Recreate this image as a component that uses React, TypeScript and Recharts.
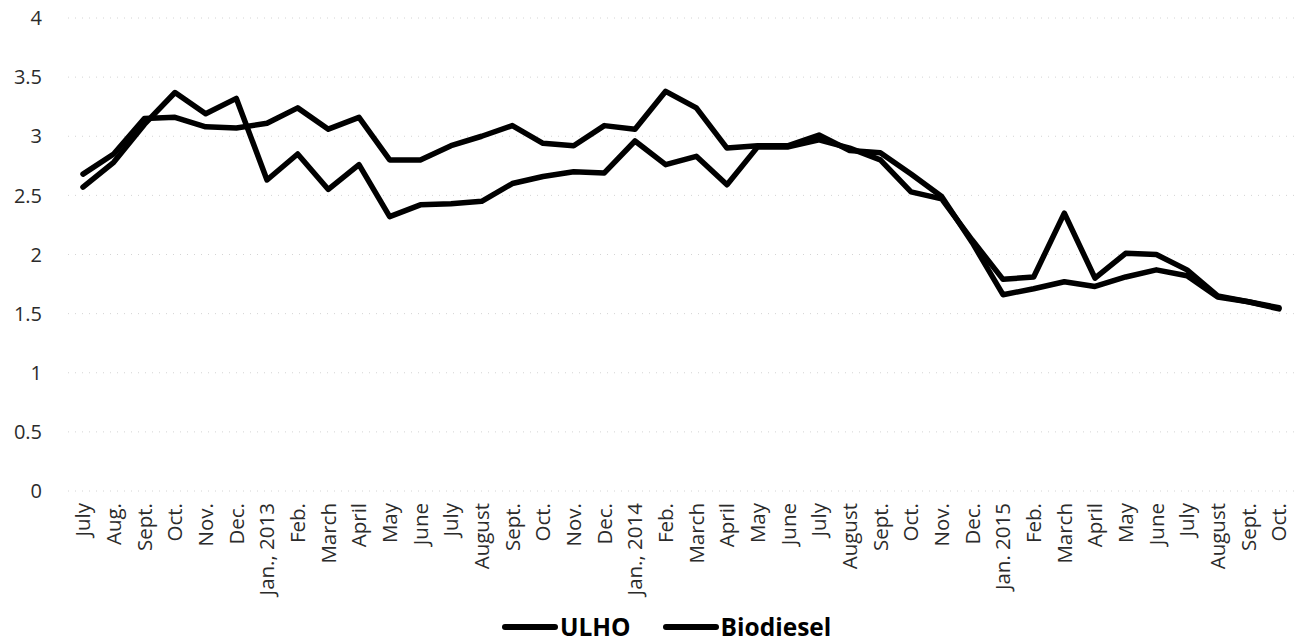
import React from "react";
import { LineChart, Line, XAxis, YAxis, CartesianGrid, Legend } from "recharts";

const months = [
  "July", "Aug.", "Sept.", "Oct.", "Nov.", "Dec.", "Jan., 2013", "Feb.", "March", "April",
  "May", "June", "July", "August", "Sept.", "Oct.", "Nov.", "Dec.", "Jan., 2014", "Feb.",
  "March", "April", "May", "June", "July", "August", "Sept.", "Oct.", "Nov.", "Dec.",
  "Jan. 2015", "Feb.", "March", "April", "May", "June", "July", "August", "Sept.", "Oct.",
];

const ulho = [
  2.57, 2.78, 3.10, 3.37, 3.19, 3.32, 2.63, 2.85, 2.55, 2.76,
  2.32, 2.42, 2.43, 2.45, 2.60, 2.66, 2.70, 2.69, 2.96, 2.76,
  2.83, 2.59, 2.91, 2.91, 2.97, 2.90, 2.80, 2.53, 2.47, 2.12,
  1.79, 1.81, 2.35, 1.80, 2.01, 2.00, 1.87, 1.65, 1.60, 1.55,
];

const biodiesel = [
  2.68, 2.85, 3.15, 3.16, 3.08, 3.07, 3.11, 3.24, 3.06, 3.16,
  2.80, 2.80, 2.92, 3.00, 3.09, 2.94, 2.92, 3.09, 3.06, 3.38,
  3.24, 2.90, 2.92, 2.92, 3.01, 2.88, 2.86, 2.68, 2.49, 2.10,
  1.66, 1.71, 1.77, 1.73, 1.81, 1.87, 1.82, 1.64, 1.60, 1.54,
];

const yTicks = [0, 0.5, 1, 1.5, 2, 2.5, 3, 3.5, 4];
const seriesNames = ["ULHO", "Biodiesel"];

const data = months.map((m, i) => ({
  idx: i,
  month: m,
  ULHO: ulho[i],
  Biodiesel: biodiesel[i],
}));

const FONT = "'Open Sans', sans-serif";

const XTick = (props: any) => {
  const { x, y, payload } = props;
  return (
    <g transform={`translate(${x},${y})`}>
      <text
        transform="rotate(-90)"
        textAnchor="end"
        x={0}
        y={0}
        dy="0.36em"
        fill="#2b2b2b"
        fontSize={20.5}
        fontFamily={FONT}
      >
        {months[payload.value]}
      </text>
    </g>
  );
};

const YTick = (props: any) => {
  const { x, y, payload } = props;
  return (
    <text x={x} y={y} dy="0.36em" textAnchor="end" fill="#2b2b2b" fontSize={20} fontFamily={FONT}>
      {payload.value}
    </text>
  );
};

const LegendContent = () => (
  <div
    style={{
      height: 40,
      boxSizing: "border-box",
      paddingTop: 8,
      paddingLeft: 502,
      display: "flex",
      alignItems: "flex-start",
      fontFamily: FONT,
      fontWeight: 700,
      fontSize: 24.5,
      color: "#000",
    }}
  >
    {seriesNames.map((n, i) => (
      <div key={n} style={{ display: "flex", alignItems: "center", height: 30, marginRight: i === 0 ? 32 : 0 }}>
        <div style={{ width: 56, height: 6, background: "#000", borderRadius: 3, marginRight: 2 }} />
        <span style={{ lineHeight: "30px" }}>{n}</span>
      </div>
    ))}
  </div>
);

export default function App() {
  return (
    <div style={{ position: "absolute", left: 0, top: 0, width: 1297, height: 644, background: "#fff" }}>
      <LineChart
        width={1297}
        height={644}
        data={data}
        margin={{ top: 18, right: 3, bottom: 0, left: 0 }}
      >
        <CartesianGrid
          vertical={false}
          stroke="#d4d4d4"
          strokeDasharray="1 6"
        />
        <XAxis
          dataKey="idx"
          type="category"
          interval={0}
          axisLine={false}
          tickLine={false}
          tick={<XTick />}
          tickMargin={6}
          padding={{ left: 15, right: 15 }}
          height={113}
        />
        <YAxis
          domain={[0, 4]}
          ticks={yTicks}
          axisLine={false}
          tickLine={false}
          tick={<YTick />}
          width={68}
          tickMargin={20}
        />
        <Legend verticalAlign="bottom" content={<LegendContent />} wrapperStyle={{ left: 0, width: 1297 }} />
        <Line
          type="linear"
          dataKey="ULHO"
          stroke="#000"
          strokeWidth={5.5}
          strokeLinejoin="round"
          strokeLinecap="round"
          dot={false}
          isAnimationActive={false}
        />
        <Line
          type="linear"
          dataKey="Biodiesel"
          stroke="#000"
          strokeWidth={5.5}
          strokeLinejoin="round"
          strokeLinecap="round"
          dot={false}
          isAnimationActive={false}
        />
      </LineChart>
    </div>
  );
}
